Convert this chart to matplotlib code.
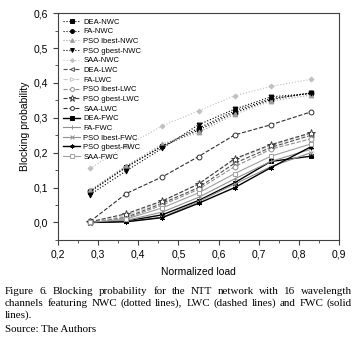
import matplotlib
matplotlib.use('Agg')
import matplotlib.pyplot as plt
from matplotlib.ticker import MultipleLocator, FuncFormatter

loads = [0.28, 0.37, 0.46, 0.55, 0.64, 0.73, 0.83]

# NWC (dotted)
dea_nwc = [0.088, 0.158, 0.220, 0.270, 0.320, 0.355, 0.370]
fa_nwc = [0.090, 0.160, 0.218, 0.265, 0.315, 0.352, 0.372]
lbest_nwc = [0.092, 0.163, 0.225, 0.258, 0.310, 0.348, 0.365]
gbest_nwc = [0.080, 0.148, 0.213, 0.280, 0.325, 0.360, 0.370]
saa_nwc = [0.155, 0.220, 0.277, 0.320, 0.363, 0.390, 0.410]

# LWC (dashed)
dea_lwc = [0.000, 0.015, 0.055, 0.100, 0.170, 0.215, 0.250]
fa_lwc = [0.000, 0.020, 0.060, 0.112, 0.180, 0.220, 0.255]
lbest_lwc = [0.000, 0.012, 0.050, 0.095, 0.160, 0.210, 0.240]
gbest_lwc = [0.002, 0.025, 0.062, 0.110, 0.183, 0.223, 0.257]
saa_lwc = [0.003, 0.083, 0.131, 0.189, 0.251, 0.280, 0.317]

# FWC (solid)
dea_fwc = [0.000, 0.004, 0.022, 0.063, 0.114, 0.175, 0.190]
fa_fwc = [0.000, 0.006, 0.030, 0.072, 0.125, 0.175, 0.210]
lbest_fwc = [0.000, 0.003, 0.015, 0.060, 0.110, 0.160, 0.200]
gbest_fwc = [0.000, 0.002, 0.014, 0.055, 0.100, 0.157, 0.217]
saa_fwc = [0.000, 0.010, 0.042, 0.085, 0.140, 0.190, 0.225]

caption_lines = [
    "Figure 6. Blocking probability for the NTT network with 16 wavelength",
    "channels featuring NWC (dotted lines), LWC (dashed lines) and FWC (solid",
    "lines).",
]
source = "Source: The Authors"

series = [
    ('DEA-NWC', dea_nwc, ':', 's', 'k', True),
    ('FA-NWC', fa_nwc, ':', 'o', 'k', True),
    ('PSO lbest-NWC', lbest_nwc, ':', '^', '#a0a0a0', True),
    ('PSO gbest-NWC', gbest_nwc, ':', 'v', 'k', True),
    ('SAA-NWC', saa_nwc, ':', 'D', '#c0c0c0', True),
    ('DEA-LWC', dea_lwc, '--', '<', '#505050', False),
    ('FA-LWC', fa_lwc, '--', '>', '#c8c8c8', False),
    ('PSO lbest-LWC', lbest_lwc, '--', 'o', '#909090', False),
    ('PSO gbest-LWC', gbest_lwc, '--', '*', '#404040', False),
    ('SAA-LWC', saa_lwc, '--', 'o', '#303030', False),
    ('DEA-FWC', dea_fwc, '-', 's', 'k', True),
    ('FA-FWC', fa_fwc, '-', '+', '#909090', True),
    ('PSO lbest-FWC', lbest_fwc, '-', 'x', '#909090', True),
    ('PSO gbest-FWC', gbest_fwc, '-', (6, 2, 0), 'k', True),
    ('SAA-FWC', saa_fwc, '-', 's', '#a0a0a0', False),
]

fig = plt.figure(figsize=(3.58, 3.37), dpi=100)
ax = fig.add_axes([0.162, 0.288, 0.785, 0.673])

for name, y, ls, mk, col, filled in series:
    ms = 3.5
    if mk == 'D':
        ms = 2.5
    if mk == '*':
        ms = 6
    lw = 1.0 if ls == '-' and col == 'k' else 0.8
    ax.plot(loads, y, linestyle=ls, marker=mk, color=col, lw=lw, ms=ms,
            mfc=col if filled else 'white', mec=col, mew=0.7, label=name)

ax.set_xlim(0.2, 0.9)
ax.set_ylim(-0.05, 0.6)
ax.xaxis.set_major_locator(MultipleLocator(0.1))
ax.xaxis.set_minor_locator(MultipleLocator(0.05))
ax.yaxis.set_major_locator(MultipleLocator(0.1))
ax.yaxis.set_minor_locator(MultipleLocator(0.05))
comma = FuncFormatter(lambda v, p: ('%.1f' % v).replace('.', ','))
ax.xaxis.set_major_formatter(comma)
ax.yaxis.set_major_formatter(comma)
ax.tick_params(which='both', direction='out', top=False, right=False,
               labelsize=7.5, color='#404040')
ax.tick_params(which='major', length=3.5)
ax.tick_params(which='minor', length=2)
for s in ax.spines.values():
    s.set_linewidth(0.8)
    s.set_color('#404040')
for lab in ax.get_xticklabels() + ax.get_yticklabels():
    lab.set_family('Liberation Sans')

ax.set_xlabel('Normalized load', fontsize=7.5, family='Liberation Sans', labelpad=5)
ax.set_ylabel('Blocking probability', fontsize=7.5, family='Liberation Sans', labelpad=3)

ax.legend(loc='upper left', frameon=False,
          prop={'family': 'Liberation Sans', 'size': 5.5},
          handlelength=2.2, labelspacing=0.3, handletextpad=0.4,
          borderaxespad=0.3, markerscale=0.8)

# caption, justified by hand
fig.canvas.draw()
renderer = fig.canvas.get_renderer()
left_px, right_px = 5, 352
W, H = fig.bbox.width, fig.bbox.height
fsz = 7.9
def width_of(w):
    t = fig.text(0, 0, w, fontsize=fsz, family='Liberation Serif')
    bw = t.get_window_extent(renderer).width
    t.remove()
    return bw
space = width_of('a b') - width_of('ab')

y0 = 291
for i, text in enumerate(caption_lines):
    line = [(w, width_of(w)) for w in text.split()]
    yy = 1 - (y0 + i * 12.3) / H
    if i < len(caption_lines) - 1 and len(line) > 1:
        total = sum(ww for _, ww in line)
        gap = (right_px - left_px - total) / (len(line) - 1)
    else:
        gap = space
    x = left_px
    for w, ww in line:
        fig.text(x / W, yy, w, fontsize=fsz, family='Liberation Serif', va='center')
        x += ww + gap
fig.text(left_px / W, 1 - (y0 + len(caption_lines) * 12.3 + 1.5) / H, source,
         fontsize=fsz, family='Liberation Serif', va='center')

fig.savefig('out.png', dpi=100)
